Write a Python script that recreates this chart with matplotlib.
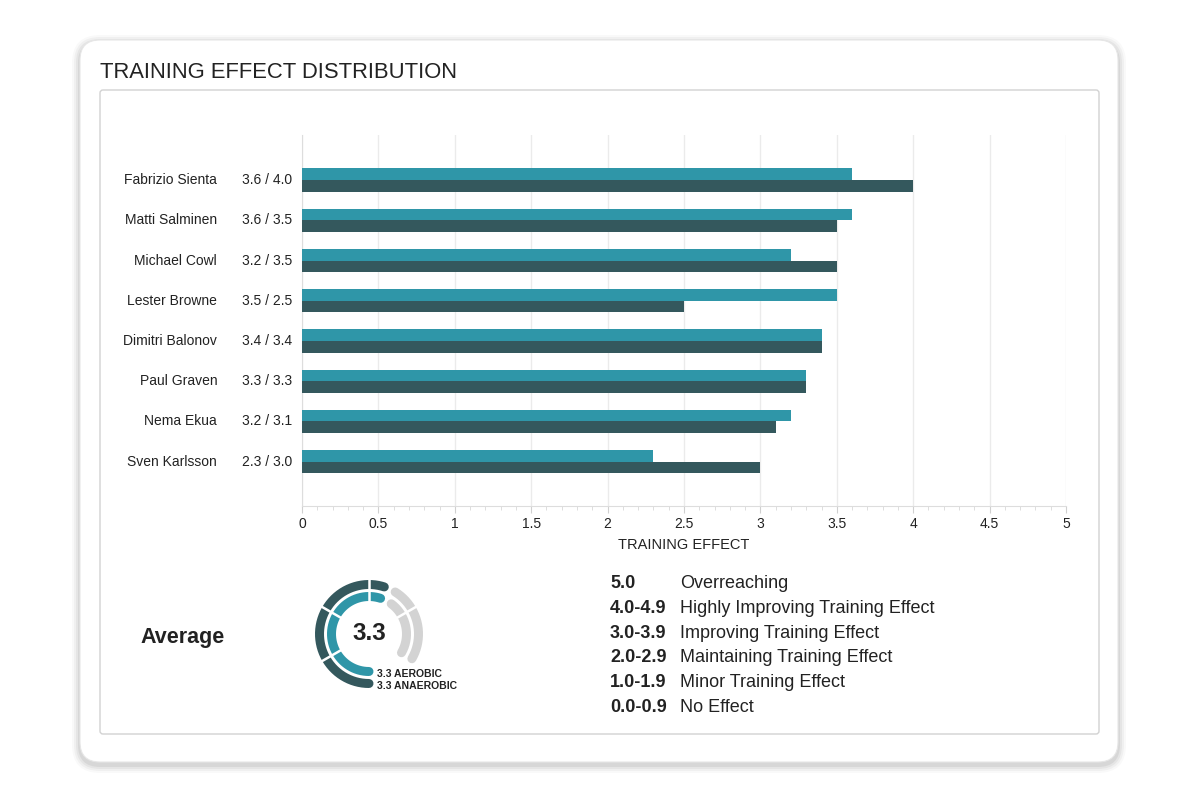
import numpy as np
import matplotlib
matplotlib.use("Agg")
import matplotlib.pyplot as plt
from matplotlib.patches import FancyBboxPatch
from matplotlib.transforms import blended_transform_factory

plt.rcParams['font.family'] = ['Liberation Sans', 'DejaVu Sans']

# --- DATA ---
names = ["Fabrizio Sienta", "Matti Salminen", "Michael Cowl", "Lester Browne",
         "Dimitri Balonov", "Paul Graven", "Nema Ekua", "Sven Karlsson"]
aerobic = [3.6, 3.6, 3.2, 3.5, 3.4, 3.3, 3.2, 2.3]
anaerobic = [4.0, 3.5, 3.5, 2.5, 3.4, 3.3, 3.1, 3.0]
x_ticks = [0, 0.5, 1, 1.5, 2, 2.5, 3, 3.5, 4, 4.5, 5]
x_max = 5

avg_aerobic = 3.3
avg_anaerobic = 3.3

scale_ranges = ["5.0", "4.0-4.9", "3.0-3.9", "2.0-2.9", "1.0-1.9", "0.0-0.9"]
scale_labels = ["Overreaching", "Highly Improving Training Effect",
                "Improving Training Effect", "Maintaining Training Effect",
                "Minor Training Effect", "No Effect"]

# --- COLOURS ---
TEAL = '#2f96a8'
DARK = '#34585d'
GRAY = '#d3d3d3'
TEXT = '#222222'

fig = plt.figure(figsize=(12, 8), dpi=100)

# overlay axes in pixel units (y measured from the bottom)
bg = fig.add_axes([0, 0, 1, 1])
bg.set_xlim(0, 1200)
bg.set_ylim(0, 800)
bg.set_aspect('equal')
bg.axis('off')

def Y(py):
    return 800 - py

# card shadow + card
for i, a in enumerate([0.025, 0.035, 0.045, 0.06]):
    grow = 8 - 2 * i
    bg.add_patch(FancyBboxPatch((80 - grow, Y(762) - grow - 3), 1038 + 2 * grow, 722 + 2 * grow,
                                boxstyle="round,pad=0,rounding_size=%d" % (20 + grow),
                                facecolor='black', edgecolor='none', alpha=a, zorder=0))
bg.add_patch(FancyBboxPatch((80, Y(762)), 1038, 722, boxstyle="round,pad=0,rounding_size=20",
                            facecolor='white', edgecolor='#e6e6e6', lw=0.8, zorder=1))
bg.add_patch(FancyBboxPatch((100, Y(734)), 999, 644, boxstyle="round,pad=0,rounding_size=3",
                            facecolor='white', edgecolor='#d2d2d2', lw=1.0, zorder=2))

bg.text(100, Y(73), "TRAINING EFFECT DISTRIBUTION", fontsize=15.8, color=TEXT,
        ha='left', va='center', zorder=3)

# --- BAR CHART ---
ax = fig.add_axes([302 / 1200, 1 - 506 / 800, 764 / 1200, 371 / 800], facecolor='none')
pos = np.arange(len(names))
h = 0.29
ax.barh(pos - h / 2, aerobic, height=h, color=TEAL, zorder=3)
ax.barh(pos + h / 2, anaerobic, height=h, color=DARK, zorder=3)

ax.set_xlim(0, x_max)
ax.set_ylim(len(names) - 1 + 1.1, -1.12)
ax.set_xticks(x_ticks)
ax.set_xticklabels(["%g" % t for t in x_ticks], fontsize=10, color=TEXT)
ax.set_xticks(np.arange(0, x_max + 0.01, 0.1), minor=True)
ax.tick_params(axis='x', which='major', length=5, color='#d0d0d0', pad=3)
ax.tick_params(axis='x', which='minor', length=3, color='#d8d8d8')
ax.set_yticks([])
ax.grid(axis='x', which='major', color='#ebebeb', lw=1, zorder=0)
for s in ['top', 'right']:
    ax.spines[s].set_visible(False)
ax.spines['left'].set_color('#dddddd')
ax.spines['bottom'].set_color('#dddddd')
ax.set_xlabel("TRAINING EFFECT", fontsize=10.5, color=TEXT, labelpad=5)

tr = blended_transform_factory(ax.transAxes, ax.transData)
for i, (n, a, b) in enumerate(zip(names, aerobic, anaerobic)):
    ax.text(-0.111, i, n, transform=tr, ha='right', va='center', fontsize=10, color=TEXT)
    ax.text(-0.013, i, "%.1f / %.1f" % (a, b), transform=tr, ha='right', va='center',
            fontsize=10, color=TEXT)

# --- AVERAGE GAUGE ---
bg.text(183, Y(637), "Average", fontsize=15.5, fontweight='bold', color=TEXT,
        ha='center', va='center', zorder=3)

cx, cy = 369, Y(634)
lw_px = 9
lw_pt = lw_px * 0.72
span = 300.0

def ang(v):
    return -90 - v / x_max * span

def arc(r, a0, a1, color, z):
    t = np.radians(np.linspace(a0, a1, 200))
    bg.plot(cx + r * np.cos(t), cy + r * np.sin(t), color=color, lw=lw_pt,
            solid_capstyle='round', zorder=z)

for r, v, col in [(49.5, avg_anaerobic, DARK), (37.5, avg_aerobic, TEAL)]:
    cap = np.degrees((lw_px / 2) / r)
    gap = np.degrees(3.0 / r)
    arc(r, ang(v) - 2 * cap - gap, ang(x_max), GRAY, 4)
    arc(r, ang(0), ang(v), col, 5)

for k in range(1, x_max):
    t = np.radians(ang(k))
    bg.plot([cx + 30 * np.cos(t), cx + 57 * np.cos(t)],
            [cy + 30 * np.sin(t), cy + 57 * np.sin(t)],
            color='white', lw=1.8, zorder=6, solid_capstyle='butt')

bg.text(cx, cy, "%.1f" % ((avg_aerobic + avg_anaerobic) / 2), fontsize=17.5, fontweight='bold',
        color=TEXT, ha='center', va='center', zorder=7)
bg.text(377, Y(674), "%.1f AEROBIC" % avg_aerobic, fontsize=7.5, fontweight='bold',
        color=TEXT, ha='left', va='center', zorder=7)
bg.text(377, Y(686), "%.1f ANAEROBIC" % avg_anaerobic, fontsize=7.5, fontweight='bold',
        color=TEXT, ha='left', va='center', zorder=7)

# --- SCALE LEGEND ---
for i, (rng, lab) in enumerate(zip(scale_ranges, scale_labels)):
    yy = Y(584 + i * 24.6)
    bg.text(610, yy, rng, fontsize=13, fontweight='bold', color=TEXT,
            ha='left', va='center', zorder=3)
    bg.text(680, yy, lab, fontsize=13, color=TEXT, ha='left', va='center', zorder=3)

fig.savefig("out.png", dpi=100, facecolor='white')
